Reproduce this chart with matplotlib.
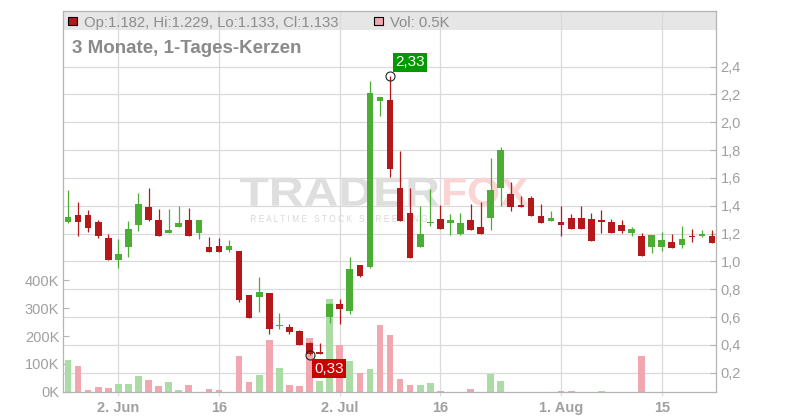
import matplotlib
matplotlib.use("Agg")
import matplotlib.pyplot as plt
import numpy as np
from matplotlib.lines import Line2D
from matplotlib.patches import Rectangle, PathPatch
from matplotlib.textpath import TextPath
from matplotlib.font_manager import FontProperties
from matplotlib.transforms import Affine2D, blended_transform_factory

plt.rcParams['font.family'] = ['Liberation Sans', 'DejaVu Sans']

# ---------------- data ----------------
opens = [1.28, 1.33, 1.33, 1.28, 1.17, 1.01, 1.10, 1.26, 1.39, 1.30,
         1.207, 1.25, 1.298, 1.207, 1.104, 1.111, 1.084, 1.075, 0.758, 0.746,
         0.773, 0.535, 0.528, 0.50, 0.411, 0.35, 0.603, 0.694, 0.646, 0.974,
         0.957, 2.155, 2.16, 1.53, 1.35, 1.106, 1.278, 1.305, 1.278, 1.199,
         1.298, 1.247, 1.314, 1.53, 1.485, 1.408, 1.456, 1.329, 1.293, 1.286,
         1.312, 1.312, 1.305, 1.298, 1.283, 1.262, 1.207, 1.185, 1.106, 1.106,
         1.139, 1.12, 1.18, 1.185, 1.182]
highs = [1.51, 1.43, 1.37, 1.30, 1.20, 1.16, 1.29, 1.49, 1.53, 1.38,
         1.38, 1.40, 1.384, 1.298, 1.175, 1.168, 1.154, 1.075, 0.758, 0.888,
         0.773, 0.627, 0.55, 0.507, 0.42, 0.41, 0.70, 0.73, 1.034, 0.974,
         2.297, 2.18, 2.33, 1.794, 1.53, 1.40, 1.52, 1.405, 1.341, 1.35,
         1.413, 1.427, 1.746, 1.825, 1.571, 1.47, 1.47, 1.413, 1.362, 1.398,
         1.343, 1.398, 1.348, 1.37, 1.305, 1.298, 1.25, 1.207, 1.19, 1.211,
         1.197, 1.254, 1.233, 1.226, 1.229]
lows = [1.278, 1.18, 1.21, 1.17, 1.01, 0.955, 1.03, 1.22, 1.29, 1.185,
        1.207, 1.245, 1.185, 1.163, 1.07, 1.065, 1.07, 0.71, 0.595, 0.638,
        0.476, 0.512, 0.48, 0.40, 0.33, 0.336, 0.56, 0.55, 0.62, 0.89,
        0.955, 2.047, 1.609, 1.293, 1.027, 1.10, 1.257, 1.235, 1.19, 1.19,
        1.226, 1.199, 1.226, 1.40, 1.365, 1.393, 1.329, 1.278, 1.287, 1.185,
        1.235, 1.235, 1.149, 1.207, 1.207, 1.207, 1.185, 1.041, 1.063, 1.077,
        1.099, 1.099, 1.142, 1.173, 1.133]
closes = [1.32, 1.28, 1.24, 1.18, 1.01, 1.05, 1.23, 1.41, 1.30, 1.185,
          1.226, 1.276, 1.185, 1.298, 1.07, 1.065, 1.111, 0.72, 0.595, 0.78,
          0.516, 0.540, 0.49, 0.40, 0.333, 0.337, 0.694, 0.658, 0.945, 0.897,
          2.208, 2.18, 1.662, 1.293, 1.027, 1.199, 1.283, 1.235, 1.298, 1.276,
          1.226, 1.199, 1.513, 1.80, 1.391, 1.393, 1.329, 1.278, 1.312, 1.264,
          1.235, 1.235, 1.149, 1.286, 1.207, 1.221, 1.233, 1.041, 1.19, 1.154,
          1.099, 1.161, 1.176, 1.199, 1.133]
volumes_k = [114, 92, 6, 17, 13, 27, 27, 56, 42, 20,
             35, 6, 24, 0, 10, 6, 0, 128, 35, 60,
             185, 85, 24, 20, 192, 38, 332, 167, 110, 67,
             81, 239, 203, 45, 24, 24, 31, 2.5, 0, 0,
             10, 0, 63, 38, 0, 0, 0, 0, 0, 2.5,
             2.5, 0, 0, 2.5, 0, 0, 0, 128, 0, 0,
             0, 0, 0, 0, 0.5]
xtick_pos = [5, 15, 27, 37, 49, 59]
xtick_labels = ["2. Jun", "16", "2. Jul", "16", "1. Aug", "15"]
price_ticks = [0.2, 0.4, 0.6, 0.8, 1.0, 1.2, 1.4, 1.6, 1.8, 2.0, 2.2, 2.4]
vol_ticks = [0, 100, 200, 300, 400]
title = "3 Monate, 1-Tages-Kerzen"

# ---------------- style ----------------
RED = "#b3181b"
GREEN = "#4bad33"
VRED = "#f0a7af"
VGREEN = "#abdca5"
GRID = "#dadada"
SPINE = "#b4b4b4"
TXT = "#a0a0a0"

W, H = 800, 420
L, R, T, B = 63.3, 716.3, 11.3, 391.7
fig = plt.figure(figsize=(8, 4.2), dpi=100)
ax_v = fig.add_axes([L / W, 1 - B / H, (R - L) / W, (B - T) / H])
ax_p = ax_v.twinx()

n = len(opens)
x = np.arange(n)
o = np.array(opens); h = np.array(highs); l = np.array(lows); c = np.array(closes)
ax_v.set_xlim(-0.47, 64.42)
ax_p.set_ylim(0.063, 2.798)
ax_v.set_ylim(0, 1367)

# header band
band_bottom = (B - 30.0) / (B - T)
ax_v.add_patch(Rectangle((0, band_bottom), 1, 1 - band_bottom, transform=ax_v.transAxes,
                         facecolor="#e6e6e6", lw=0, zorder=0.2))

# grid
ax_v.set_axisbelow(True)
ax_v.set_xticks(xtick_pos)
ax_v.set_xticklabels(xtick_labels)
ax_v.grid(axis="x", color=GRID, lw=0.9)
ax_v.grid(axis="y", visible=False)
btr = blended_transform_factory(ax_v.transAxes, ax_p.transData)
for p in price_ticks:
    ax_v.add_line(Line2D([0, 1], [p, p], transform=btr, color=GRID, lw=0.9, zorder=0.5))

# watermark
def stretched(s, x0, ybot, width, height, color, weight):
    tp = TextPath((0, 0), s, size=40, prop=FontProperties(family="Liberation Sans", weight=weight))
    ext = tp.get_extents()
    tr = (Affine2D().translate(-ext.x0, -ext.y0)
          .scale(width / ext.width, height / ext.height)
          .translate(x0, H - ybot).scale(1 / W, 1 / H) + fig.transFigure)
    pp = PathPatch(tp, transform=tr, facecolor=color, edgecolor="none", zorder=0.8, clip_on=False)
    ax_v.add_artist(pp)

stretched("TRADER", 240, 205.7, 199, 28, "#dedede", "bold")
stretched("FOX", 444, 205.7, 84, 28, "#fbd4d4", "bold")
stretched("R E A L T I M E   S T O C K   S C R E E N I N G", 251, 222, 176, 7, "#d8d8d8", "normal")

# volume bars
vcols = []
for i in range(n):
    ref = o[i] if i == 0 else c[i - 1]
    vcols.append(VGREEN if c[i] >= ref else VRED)
ax_v.bar(x, volumes_k, width=0.66, color=vcols, lw=0, zorder=2)

# candles
ccols = [GREEN if c[i] >= o[i] else RED for i in range(n)]
bottoms = np.minimum(o, c)
heights = np.maximum(np.abs(c - o), 0.008)
ax_p.vlines(x, l, h, colors=ccols, lw=0.9, zorder=3)
ax_p.bar(x, heights, bottom=bottoms, width=0.66, color=ccols, lw=0, zorder=4)

# extreme markers
imax = int(np.argmax(h)); imin = int(np.argmin(l))
ax_p.plot([imax], [h[imax]], "o", mfc="none", mec="#222222", ms=6.5, mew=0.8, zorder=5)
ax_p.plot([imin], [l[imin]], "o", mfc="none", mec="#222222", ms=6.5, mew=0.8, zorder=5)
ax_p.annotate(f"{h[imax]:.2f}".replace(".", ","), xy=(imax, h[imax]), xytext=(3.8, 5),
              textcoords="offset points", ha="left", va="bottom", color="white", fontsize=11,
              bbox=dict(boxstyle="square,pad=0.15", fc="#009900", ec="none"), zorder=6)
ax_p.annotate(f"{l[imin]:.2f}".replace(".", ","), xy=(imin, l[imin]), xytext=(3.4, -5.2),
              textcoords="offset points", ha="left", va="top", color="white", fontsize=11,
              bbox=dict(boxstyle="square,pad=0.15", fc="#cc0000", ec="none"), zorder=6)

# axes styling
for s in ax_p.spines.values():
    s.set_visible(False)
for s in ax_v.spines.values():
    s.set_color(SPINE); s.set_linewidth(0.9)
ax_v.set_yticks(vol_ticks)
ax_v.set_yticklabels([f"{v}K" for v in vol_ticks])
ax_v.tick_params(axis="y", direction="in", length=4, color=SPINE, labelcolor=TXT, labelsize=10.5, pad=3)
ax_v.tick_params(axis="x", direction="out", length=3, color=GRID, labelcolor=TXT, labelsize=10.5, pad=4)
for t in ax_v.get_xticklabels():
    t.set_fontweight("bold")
ax_p.set_yticks(price_ticks)
ax_p.set_yticklabels([f"{p:.1f}".replace(".", ",") for p in price_ticks])
ax_p.tick_params(axis="y", direction="in", length=4, color=SPINE, labelcolor=TXT, labelsize=10.5, pad=3)

# header
fig.add_artist(Rectangle((68 / W, 1 - 25.3 / H), 9 / W, 8.7 / H, transform=fig.transFigure,
                         facecolor=RED, edgecolor="black", lw=0.8))
fig.text(84 / W, 1 - 26.7 / H,
         f"Op:{o[-1]:.3f}, Hi:{h[-1]:.3f}, Lo:{l[-1]:.3f}, Cl:{c[-1]:.3f}",
         ha="left", va="baseline", fontsize=10.7, color="#8c8c8c")
fig.add_artist(Rectangle((374 / W, 1 - 25.3 / H), 9 / W, 8.7 / H, transform=fig.transFigure,
                         facecolor=VRED, edgecolor="black", lw=0.8))
fig.text(390 / W, 1 - 26.7 / H, f"Vol: {volumes_k[-1]}K", ha="left", va="baseline",
         fontsize=10.7, color="#8c8c8c")
fig.text(72 / W, 1 - 53.3 / H, title, ha="left", va="baseline", fontsize=13.5,
         fontweight="bold", color="#8a8a8a")

fig.savefig("out.png", dpi=100)
